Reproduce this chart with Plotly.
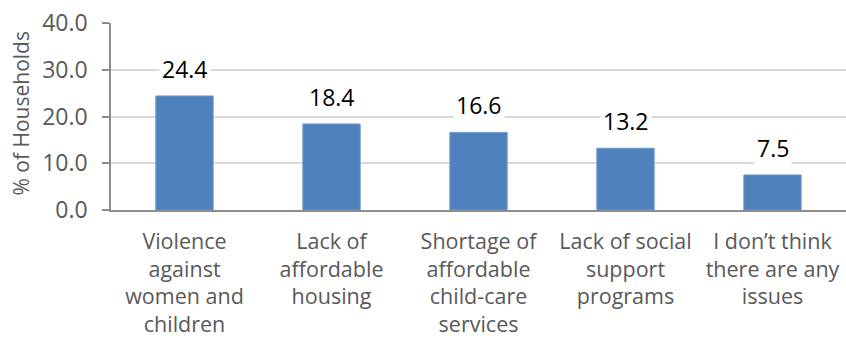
import plotly.graph_objects as go

# Survey results: share of households naming each issue
categories = [
    "Violence<br>against<br>women and<br>children",
    "Lack of<br>affordable<br>housing",
    "Shortage of<br>affordable<br>child-care<br>services",
    "Lack of social<br>support<br>programs",
    "I don\u2019t think<br>there are any<br>issues",
]
values = [24.4, 18.4, 16.6, 13.2, 7.5]
y_ticks = [0, 10, 20, 30, 40]

FONT = "'Open Sans', sans-serif"
BAR = "#4F81BD"
GRID = "#D9D9D9"
AXIS = "#8C8C8C"
TEXT = "#595959"

fig = go.Figure(
    go.Bar(
        x=categories,
        y=values,
        width=0.39,
        marker=dict(color=BAR, line=dict(color="#6D9AD0", width=1)),
        hoverinfo="skip",
    )
)

# Value labels sit on a white box that breaks the gridlines
for cat, v in zip(categories, values):
    fig.add_annotation(
        x=cat, y=v, xref="x", yref="y",
        text=f"{v:.1f}", showarrow=False,
        yshift=27, bgcolor="white",
        borderpad=2,
        font=dict(family=FONT, size=23, color="#000000"),
    )

# Y axis title
fig.add_annotation(
    xref="paper", yref="paper", x=0, y=0.5,
    xanchor="center", yanchor="middle",
    xshift=-91, yshift=3, textangle=-90,
    text="% of Households", showarrow=False,
    font=dict(family=FONT, size=21, color=TEXT),
)

fig.update_layout(
    width=846, height=339,
    margin=dict(l=111, r=0, t=23, b=129),
    paper_bgcolor="white", plot_bgcolor="white",
    showlegend=False,
    bargap=0.61,
    font=dict(family=FONT, color=TEXT),
)
fig.update_xaxes(
    showline=True, linecolor=AXIS, linewidth=1.5,
    showgrid=False, ticks="",
    tickfont=dict(family=FONT, size=21.5, color=TEXT),
    ticklabelstandoff=11,
)
fig.update_yaxes(
    range=[0, 40], tickvals=y_ticks,
    ticktext=[f"{t:.1f}" for t in y_ticks],
    showline=True, linecolor=AXIS, linewidth=1.5,
    ticks="outside", ticklen=7, tickcolor=AXIS, tickwidth=1.5,
    showgrid=True, gridcolor=GRID, gridwidth=1.5,
    zeroline=False,
    tickfont=dict(family=FONT, size=23, color=TEXT),
    ticklabelstandoff=10,
)

fig.write_html("out.html")
